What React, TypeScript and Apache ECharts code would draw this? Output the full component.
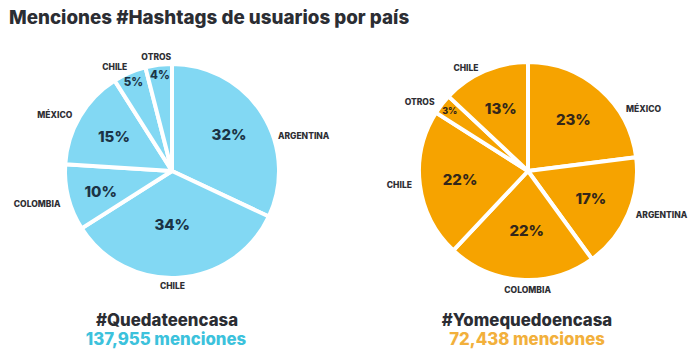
import React, { useEffect, useRef } from "react";
import * as echarts from "echarts";

const titleText = "Menciones #Hashtags de usuarios por país";
const leftNames = ["ARGENTINA", "CHILE", "COLOMBIA", "MÉXICO", "CHILE", "OTROS"];
const leftValues = [32, 34, 10, 15, 5, 4];
const rightNames = ["MÉXICO", "ARGENTINA", "COLOMBIA", "CHILE", "OTROS", "CHILE"];
const rightValues = [23, 17, 22, 22, 3, 13];
const hashtags = ["#Quedateencasa", "#Yomequedoencasa"];
const mentionCounts = ["137,955 menciones", "72,438 menciones"];

const FONT = "Inter, 'Open Sans', sans-serif";

// small label nudges (styling only), keyed by data index
const leftOuterNudge: Record<number, [number, number]> = {
  0: [8, 24],
  1: [-24, 5],
  2: [0, 6],
  4: [4, -3],
  5: [18, -5],
};
const rightOuterNudge: Record<number, [number, number]> = {
  0: [19, 22],
  2: [35, 7],
};
const leftInnerNudge: Record<number, [number, number]> = {
  1: [-4, -14],
  2: [-6, 4],
};
const rightInnerNudge: Record<number, [number, number]> = {
  2: [3, -9],
};

function nudger(map: Record<number, [number, number]>) {
  return (p: any) => {
    const n = map[p.dataIndex];
    return n ? { dx: n[0], dy: n[1] } : {};
  };
}

function buildPie(
  names: string[],
  values: number[],
  center: [number, number],
  r: number,
  color: string,
  inner: string,
  outerNudge: Record<number, [number, number]>,
  innerNudge: Record<number, [number, number]>
) {
  const base = names.map((n, i) => ({ name: n, value: values[i] }));
  const visible = {
    type: "pie",
    center,
    radius: [0, r],
    startAngle: 90,
    clockwise: true,
    avoidLabelOverlap: false,
    silent: true,
    itemStyle: { color, borderColor: "#ffffff", borderWidth: 4 },
    label: {
      show: true,
      position: "outside",
      formatter: "{b}",
      fontFamily: FONT,
      fontSize: 8.5,
      fontWeight: 800,
      color: "#2e2e33",
    },
    labelLine: { show: false, length: 3, length2: 0 },
    labelLayout: nudger(outerNudge),
    data: base,
  };
  const bigLabels = {
    type: "pie",
    center,
    radius: [22, r],
    startAngle: 90,
    clockwise: true,
    silent: true,
    itemStyle: { color: "rgba(0,0,0,0)", borderWidth: 0 },
    labelLine: { show: false },
    labelLayout: nudger(innerNudge),
    data: base.map((d) => ({
      ...d,
      label: {
        show: d.value >= 10,
        position: "inside",
        formatter: "{c}%",
        fontFamily: FONT,
        fontSize: 15,
        fontWeight: 800,
        color: inner,
      },
    })),
  };
  const smallLabels = {
    type: "pie",
    center,
    radius: [r - 26, r],
    startAngle: 90,
    clockwise: true,
    silent: true,
    itemStyle: { color: "rgba(0,0,0,0)", borderWidth: 0 },
    labelLine: { show: false },
    data: base.map((d) => ({
      ...d,
      label: {
        show: d.value < 10,
        position: "inside",
        formatter: "{c}%",
        fontFamily: FONT,
        fontSize: d.value < 4 ? 9 : 11.5,
        fontWeight: 800,
        color: inner,
      },
    })),
  };
  return [visible, bigLabels, smallLabels];
}

function footerText(x: number, y: number, text: string, fill: string) {
  return {
    type: "text",
    x,
    y,
    style: {
      text,
      textAlign: "center",
      textVerticalAlign: "middle",
      fontFamily: FONT,
      fontSize: 16.8,
      fontWeight: 800,
      fill,
    },
  };
}

export default function App() {
  const ref = useRef<HTMLDivElement>(null);
  useEffect(() => {
    document.body.style.margin = "0";
    const chart = echarts.init(ref.current!, null, { renderer: "svg" });
    const option = {
      animation: false,
      backgroundColor: "#ffffff",
      title: {
        text: titleText,
        left: 4,
        top: 3,
        textStyle: {
          fontFamily: FONT,
          fontSize: 18.8,
          fontWeight: 800,
          color: "#2b2d33",
        },
      },
      series: [
        ...buildPie(leftNames, leftValues, [172, 171], 107, "#82d8f3", "#1b3345", leftOuterNudge, leftInnerNudge),
        ...buildPie(rightNames, rightValues, [528, 171], 109, "#f6a300", "#33271a", rightOuterNudge, rightInnerNudge),
      ],
      graphic: [
        footerText(167, 320, hashtags[0], "#2b2d33"),
        footerText(166, 339, mentionCounts[0], "#3cc2dc"),
        footerText(527, 320, hashtags[1], "#2b2d33"),
        footerText(527, 339, mentionCounts[1], "#f2b03c"),
      ],
    };
    chart.setOption(option as any);
    return () => chart.dispose();
  }, []);
  return <div ref={ref} style={{ width: 696, height: 354 }} />;
}
